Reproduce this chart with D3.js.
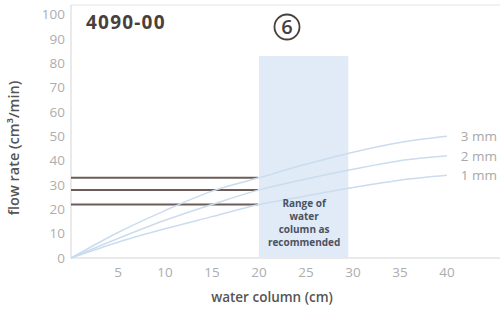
<!DOCTYPE html>
<html lang="en">
<head>
    <meta charset="UTF-8">
    <title>4090-00 flow rate</title>
    <script src="https://d3js.org/d3.v7.min.js"></script>
    <style>
        body { margin: 0; background: #fff; }
        svg { font-family: "Open Sans", sans-serif; }
        .tick-label { fill: #adadad; font-size: 13.5px; }
        .axis-title { fill: #555; font-size: 13.5px; font-weight: 600; }
        .curve { fill: none; stroke: #cbdcef; stroke-width: 1.5px; }
        .ref-line { stroke: #6c5d58; stroke-width: 2px; }
    </style>
</head>
<body>
<div id="chart"></div>
<script>
    const width = 500;
    const height = 314;

    // water column (cm)
    const waterColumn = [0, 5, 10, 15, 20, 25, 30, 35, 40];
    // flow rate (cm3/min) per orifice size
    const flow3mm = [0, 10.5, 19.5, 27.5, 33, 38.5, 43.5, 47.5, 50];
    const flow2mm = [0, 8, 15.5, 22, 28, 32.5, 36.5, 40, 42];
    const flow1mm = [0, 6.5, 12, 17, 22, 25.5, 29, 32, 34];
    const seriesNames = ["3 mm", "2 mm", "1 mm"];
    const refLevels = [33, 28, 22];
    const recommendedRange = [20, 29.5];
    const recommendedTop = 83;
    const xTicks = [5, 10, 15, 20, 25, 30, 35, 40];
    const yTicks = [0, 10, 20, 30, 40, 50, 60, 70, 80, 90, 100];

    const x = d3.scaleLinear().domain([0, 45]).range([71, 494]);
    const y = d3.scaleLinear().domain([0, 104]).range([258, 5]);

    const svg = d3.select("#chart").append("svg")
        .attr("width", width)
        .attr("height", height);

    // frame lines
    svg.append("line")
        .attr("x1", x(0)).attr("x2", width)
        .attr("y1", y(104)).attr("y2", y(104))
        .attr("stroke", "#ececec").attr("stroke-width", 1.5);
    svg.append("line")
        .attr("x1", x(0)).attr("x2", x(0))
        .attr("y1", y(104)).attr("y2", y(0))
        .attr("stroke", "#e3e3e3").attr("stroke-width", 1.5);
    svg.append("line")
        .attr("x1", x(0)).attr("x2", width)
        .attr("y1", y(0)).attr("y2", y(0))
        .attr("stroke", "#e3e3e3").attr("stroke-width", 1.5);

    // recommended band
    svg.append("rect")
        .attr("x", x(recommendedRange[0]))
        .attr("y", y(recommendedTop))
        .attr("width", x(recommendedRange[1]) - x(recommendedRange[0]))
        .attr("height", y(0) - y(recommendedTop))
        .attr("fill", "#e0ebf7");

    // y tick labels
    svg.append("g").selectAll("text")
        .data(yTicks)
        .join("text")
        .attr("class", "tick-label")
        .attr("x", 65)
        .attr("y", d => y(d))
        .attr("dy", "0.35em")
        .attr("text-anchor", "end")
        .text(d => d);

    // x tick labels
    svg.append("g").selectAll("text")
        .data(xTicks)
        .join("text")
        .attr("class", "tick-label")
        .attr("x", d => x(d))
        .attr("y", 277)
        .attr("text-anchor", "middle")
        .text(d => d);

    // reference lines at x = 0..20
    svg.append("g").selectAll("line")
        .data(refLevels)
        .join("line")
        .attr("class", "ref-line")
        .attr("x1", x(0))
        .attr("x2", x(recommendedRange[0]) - 1)
        .attr("y1", d => y(d))
        .attr("y2", d => y(d));

    // curves
    const series = [flow3mm, flow2mm, flow1mm];
    const line = d3.line()
        .x((d, i) => x(waterColumn[i]))
        .y(d => y(d))
        .curve(d3.curveMonotoneX);

    svg.append("g").selectAll("path")
        .data(series)
        .join("path")
        .attr("class", "curve")
        .attr("d", d => line(d));

    svg.append("g").selectAll("text")
        .data(series)
        .join("text")
        .attr("x", 497)
        .attr("y", d => y(d[d.length - 1]))
        .attr("dy", "0.35em")
        .attr("text-anchor", "end")
        .attr("fill", "#a8a8a8")
        .style("font-size", "13.5px")
        .text((d, i) => seriesNames[i]);

    // band label
    const bandLines = ["Range of", "water", "column as", "recommended"];
    svg.append("g").selectAll("text")
        .data(bandLines)
        .join("text")
        .attr("x", x(24.8))
        .attr("y", (d, i) => 207 + i * 13)
        .attr("text-anchor", "middle")
        .attr("fill", "#4c5262")
        .style("font-size", "10px")
        .style("font-weight", "700")
        .text(d => d);

    // title
    svg.append("text")
        .attr("x", 86)
        .attr("y", 29)
        .attr("fill", "#4a3f3d")
        .style("font-size", "19px")
        .style("font-weight", "700")
        .style("letter-spacing", "1.2px")
        .text("4090-00");

    // circled number
    svg.append("circle")
        .attr("cx", 287).attr("cy", 27).attr("r", 12.5)
        .attr("fill", "none")
        .attr("stroke", "#4a3f3d")
        .attr("stroke-width", 1.8);
    svg.append("text")
        .attr("x", 287).attr("y", 27)
        .attr("dy", "0.36em")
        .attr("text-anchor", "middle")
        .attr("fill", "#4a3f3d")
        .style("font-size", "20px")
        .style("font-weight", "600")
        .text("6");

    // axis titles
    svg.append("text")
        .attr("class", "axis-title")
        .attr("x", 272)
        .attr("y", 302)
        .attr("text-anchor", "middle")
        .text("water column (cm)");

    svg.append("text")
        .attr("class", "axis-title")
        .attr("transform", "translate(19,148) rotate(-90)")
        .attr("text-anchor", "middle")
        .style("font-size", "14.5px")
        .text("flow rate (cm³/min)");
</script>
</body>
</html>
